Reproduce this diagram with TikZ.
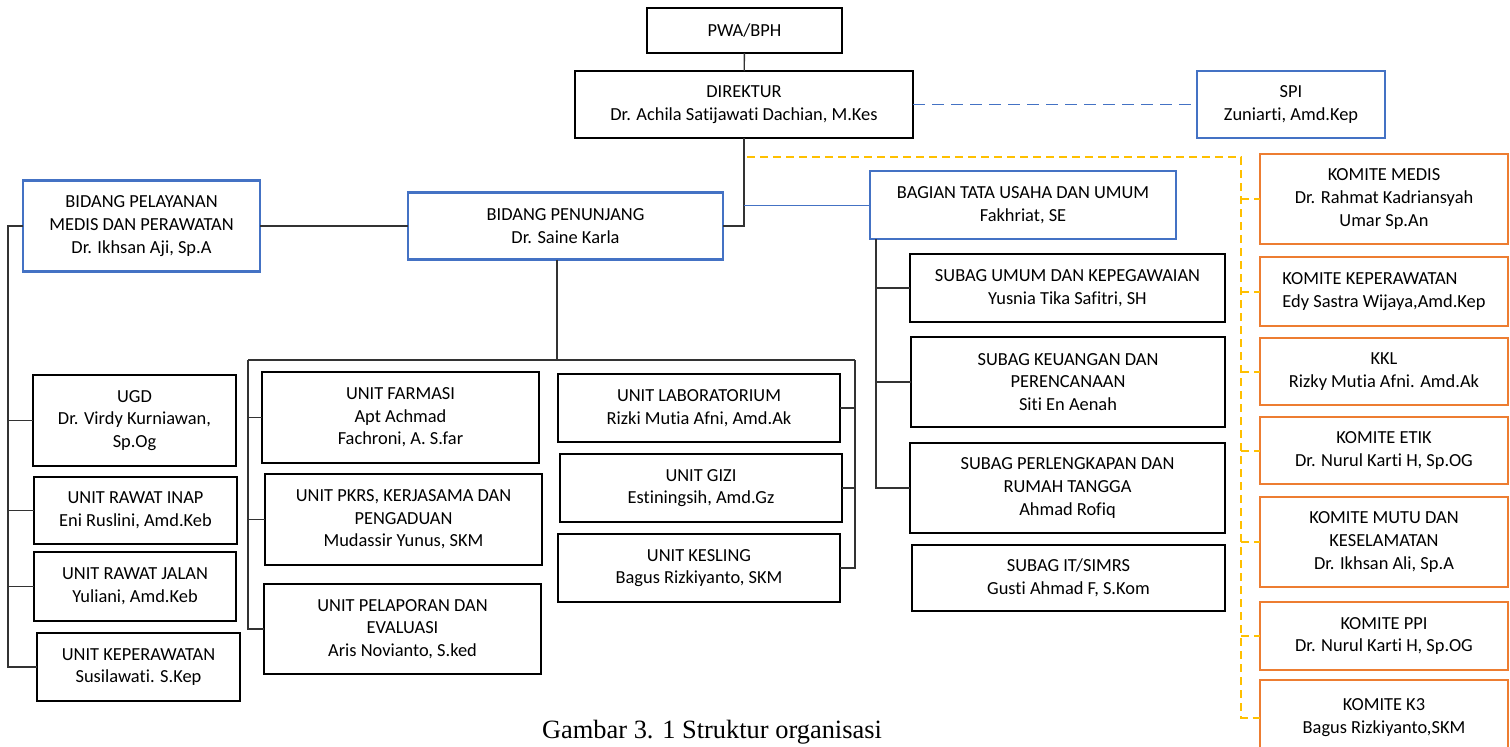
\documentclass[tikz,border=0pt]{standalone}
\usepackage{fontspec}
\setmainfont{Carlito}[Ligatures={NoCommon}]
\newfontfamily\capfont{Liberation Serif}
\definecolor{LineBlue}{RGB}{68,114,196}
\definecolor{LineOrange}{RGB}{237,125,49}
\definecolor{LineGold}{RGB}{255,192,0}

\begin{document}
\begin{tikzpicture}[x=0.5pt, y=-0.5pt,
        unit/.style={draw, line width=1.4pt, fill=white, align=center, inner sep=2pt, outer sep=0pt, font=\fontsize{9.2}{11.3}\selectfont},
        bidang/.style={unit, draw=LineBlue},
        komite/.style={unit, draw=LineOrange, minimum width=124pt},
        link/.style={line width=0.7pt, black!80},
        spiline/.style={dashed, dash pattern=on 6pt off 3.5pt, line width=0.9pt, LineBlue},
        komline/.style={dashed, dash pattern=on 4pt off 2.5pt, line width=1pt, LineGold}
    ]
    \useasboundingbox (0,0) rectangle (1510,746);
    % top
    \node[unit, minimum width=97.5pt, minimum height=22.5pt] (pwa) at (744.5,30.5) {PWA/BPH};
    \node[unit, minimum width=169pt, minimum height=33.5pt]  (dir) at (744,104.5) {DIREKTUR\\Dr. Achila Satijawati Dachian, M.Kes};
    \node[bidang, minimum width=94pt, minimum height=33.5pt] (spi) at (1291,104.5) {SPI\\Zuniarti, Amd.Kep};
    \node[bidang, minimum width=118.5pt, minimum height=45.5pt] (bpm) at (141.5,226) {BIDANG PELAYANAN\\MEDIS DAN PERAWATAN\\Dr. Ikhsan Aji, Sp.A};
    \node[bidang, minimum width=157.5pt, minimum height=33.5pt] (bpj) at (565.5,226) {BIDANG PENUNJANG\\Dr. Saine Karla};
    \node[bidang, minimum width=153pt, minimum height=34pt]     (btu) at (1023,205) {BAGIAN TATA USAHA DAN UMUM\\Fakhriat, SE};
    % subag
    \node[unit, minimum width=157.5pt, minimum height=34pt] (umum) at (1067.5,288) {SUBAG UMUM DAN KEPEGAWAIAN\\Yusnia Tika Safitri, SH};
    \node[unit, minimum width=157pt, minimum height=45pt]   (keu)  at (1068,382) {SUBAG KEUANGAN DAN\\PERENCANAAN\\Siti En Aenah};
    \node[unit, minimum width=157.5pt, minimum height=45pt] (perl) at (1067.5,488) {SUBAG PERLENGKAPAN DAN\\RUMAH TANGGA\\Ahmad Rofiq};
    \node[unit, minimum width=156.5pt, minimum height=33pt] (it)   at (1068.5,578) {SUBAG IT/SIMRS\\Gusti Ahmad F, S.Kom};
    % pelayanan
    \node[unit, minimum width=101.5pt, minimum height=45.5pt] (ugd)   at (134.5,420.5) {UGD\\Dr. Virdy Kurniawan,\\Sp.Og};
    \node[unit, minimum width=101.5pt, minimum height=33.5pt] (inap)  at (135.5,510.5) {UNIT RAWAT INAP\\Eni Ruslini, Amd.Keb};
    \node[unit, minimum width=101pt, minimum height=34.5pt]   (jalan) at (135,586.5) {UNIT RAWAT JALAN\\Yuliani, Amd.Keb};
    \node[unit, minimum width=101.5pt, minimum height=34pt]   (kep)   at (138.5,667) {UNIT KEPERAWATAN\\Susilawati. S.Kep};
    % penunjang
    \node[unit, minimum width=138.5pt, minimum height=45.5pt] (farmasi) at (400.5,417.5) {UNIT FARMASI\\Apt Achmad\\Fachroni, A. S.far};
    \node[unit, minimum width=138.5pt, minimum height=45.5pt] (pkrs)    at (403.5,519.5) {UNIT PKRS, KERJASAMA DAN\\PENGADUAN\\Mudassir Yunus, SKM};
    \node[unit, minimum width=138.5pt, minimum height=45pt]   (pelap)   at (402.5,629) {UNIT PELAPORAN DAN\\EVALUASI\\Aris Novianto, S.ked};
    \node[unit, minimum width=141pt, minimum height=34pt] (lab)     at (699,408) {UNIT LABORATORIUM\\Rizki Mutia Afni, Amd.Ak};
    \node[unit, minimum width=141pt, minimum height=34pt] (gizi)    at (701,488) {UNIT GIZI\\Estiningsih, Amd.Gz};
    \node[unit, minimum width=141pt, minimum height=34pt] (kesling) at (699,568) {UNIT KESLING\\Bagus Rizkiyanto, SKM};
    % komite
    \node[komite, minimum height=45pt]   (kmed)  at (1384,199) {KOMITE MEDIS\\Dr. Rahmat Kadriansyah\\Umar Sp.An};
    \node[komite, minimum height=34.5pt, align=left] (kkep) at (1384,291.5) {KOMITE KEPERAWATAN\\Edy Sastra Wijaya,Amd.Kep};
    \node[komite, minimum height=33.5pt] (kkl)   at (1384,371.5) {KKL\\Rizky Mutia Afni. Amd.Ak};
    \node[komite, minimum height=33.5pt] (ketik) at (1384,450.5) {KOMITE ETIK\\Dr. Nurul Karti H, Sp.OG};
    \node[komite, minimum height=45pt]   (kmutu) at (1384,542) {KOMITE MUTU DAN\\KESELAMATAN\\Dr. Ikhsan Ali, Sp.A};
    \node[komite, minimum height=34pt]   (kppi)  at (1384,636) {KOMITE PPI\\Dr. Nurul Karti H, Sp.OG};
    \node[komite, minimum height=37.5pt] (kk3)   at (1384,717.5) {KOMITE K3\\Bagus Rizkiyanto,SKM};
    \node[anchor=base, font=\capfont\fontsize{13.2}{15}\selectfont] (cap) at (712,738) {Gambar 3. 1 Struktur organisasi};

    \coordinate (kstart) at (747,157);
    \coordinate (kbus)   at (1241,157);
    \coordinate (lbus)   at (8,226);
    \coordinate (mtop)   at (557,360);
    \coordinate (mleft)  at (248,360);
    \coordinate (mright) at (855,360);
    \coordinate (rbus)   at (876,239);

    \draw[link] (pwa) -- (dir);
    \draw[spiline] (dir) -- (spi);
    \draw[link] (dir.south) |- (bpj.east);
    \draw[link] (bpm) -- (bpj);
    \draw[line width=0.5pt, LineBlue] (btu.west) -- (btu.west -| dir.south);

    \draw[komline] (kstart) -- (kbus) |- (kk3.west);
    \draw[komline] (kbus |- kmed.west)  -- (kmed.west);
    \draw[komline] (kbus |- kkep.west)  -- (kkep.west);
    \draw[komline] (kbus |- kkl.west)   -- (kkl.west);
    \draw[komline] (kbus |- ketik.west) -- (ketik.west);
    \draw[komline] (kbus |- kmutu.west) -- (kmutu.west);
    \draw[komline] (kbus |- kppi.west)  -- (kppi.west);

    \draw[link] (bpm.west) -- (lbus) |- (kep.west);
    \draw[link] (lbus |- ugd.west)   -- (ugd.west);
    \draw[link] (lbus |- inap.west)  -- (inap.west);
    \draw[link] (lbus |- jalan.west) -- (jalan.west);

    \draw[link] (bpj.south -| mtop) -- (mtop);
    \draw[link] (mleft) -- (mright);
    \draw[link] (mleft) |- (pelap.west);
    \draw[link] (mright) |- (kesling.east);
    \draw[link] (mleft |- farmasi.west) -- (farmasi.west);
    \draw[link] (mleft |- pkrs.west)    -- (pkrs.west);
    \draw[link] (mright |- lab.east)    -- (lab.east);
    \draw[link] (mright |- gizi.east)   -- (gizi.east);

    \draw[link] (rbus) |- (perl.west);
    \draw[link] (rbus |- umum.west) -- (umum.west);
    \draw[link] (rbus |- keu.west)  -- (keu.west);
\end{tikzpicture}
\end{document}
